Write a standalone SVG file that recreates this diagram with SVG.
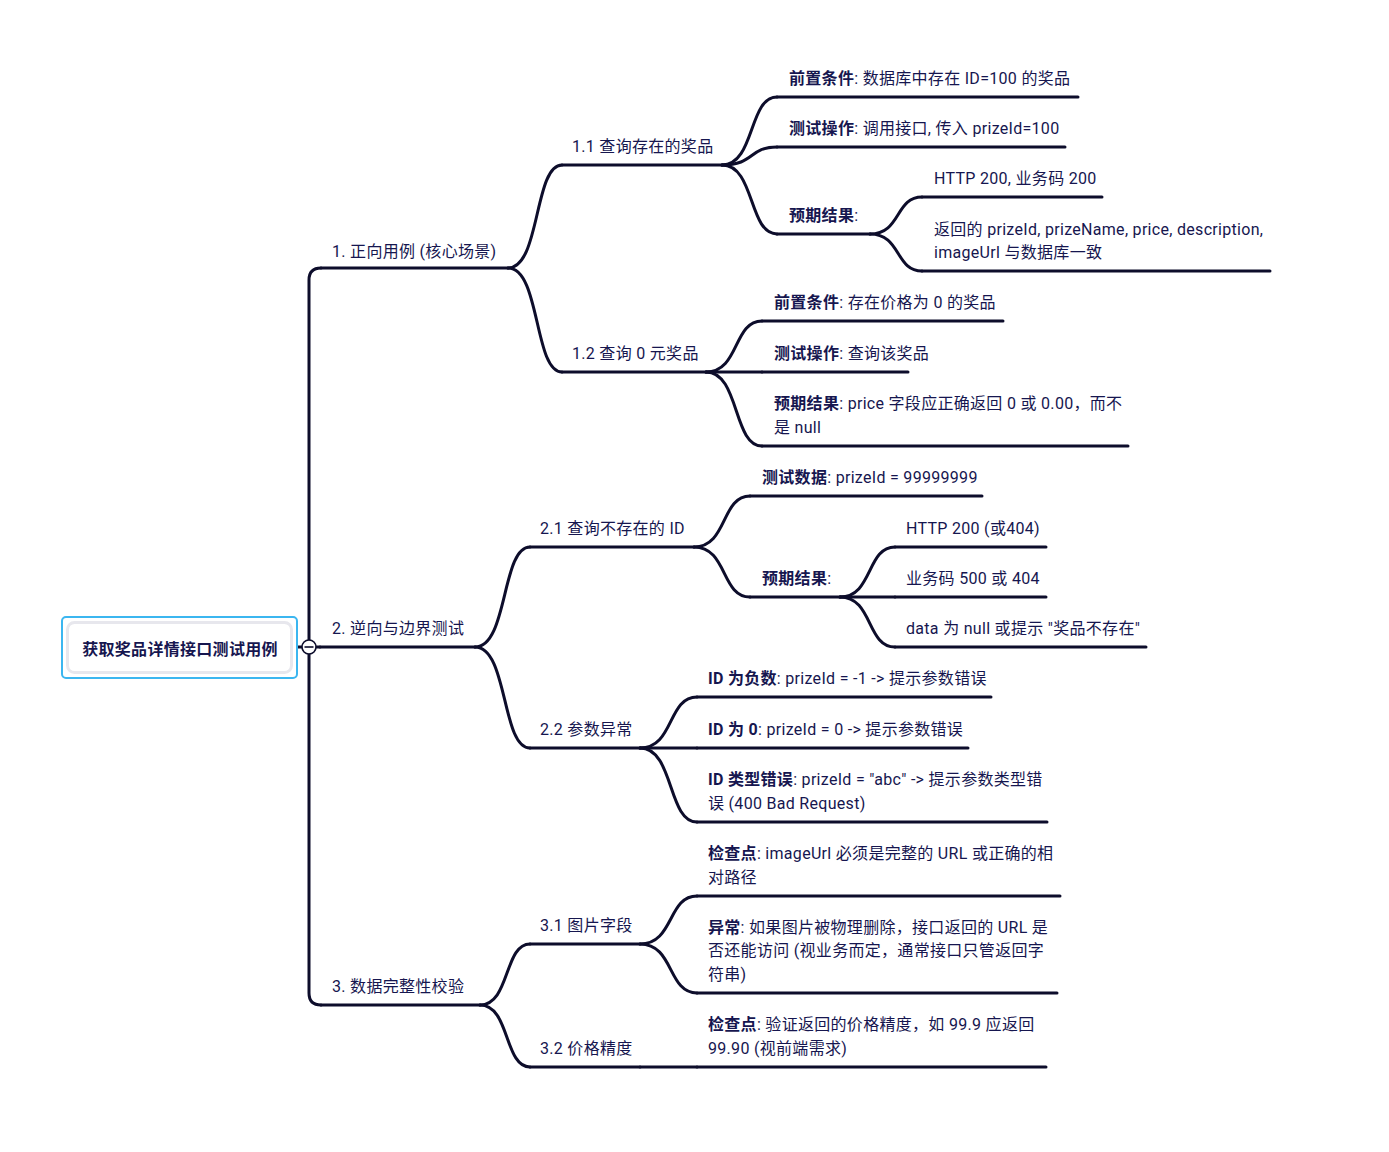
<svg xmlns="http://www.w3.org/2000/svg" width="1389" height="1152" viewBox="0 0 1389 1152">
<style>
text{font-family:Roboto,"Noto Sans CJK SC",sans-serif;font-size:16px;fill:#16164f;letter-spacing:0.3px}
.b{font-weight:bold}
.u{stroke:#0d0d2b;stroke-width:3;fill:none;stroke-linecap:round}
.c{stroke:#0d0d2b;stroke-width:3;fill:none;stroke-linecap:round}
</style>
<rect width="1389" height="1152" fill="#fff"/>
<g id="connectors">
<path class="c" d="M297 647H302"/>
<path class="c" d="M309 640V280Q309 268 321 268"/>
<path class="c" d="M309 654V993Q309 1005 321 1005"/>
<path class="c" d="M316 647H320"/>
<path class="c" d="M508 268C540.4 268 533.9 165 562 165"/>
<path class="c" d="M508 268C540.4 268 533.9 372 562 372"/>
<path class="c" d="M475 647C508 647 501.4 547 530 547"/>
<path class="c" d="M475 647C508 647 501.4 748 530 748"/>
<path class="c" d="M480 1005C510 1005 504 944 530 944"/>
<path class="c" d="M480 1005C510 1005 504 1067 530 1067"/>
<path class="c" d="M722 165C755 165 748.4 97 777 97"/>
<path class="c" d="M722 165C755 165 748.4 147 777 147"/>
<path class="c" d="M722 165C755 165 748.4 234 777 234"/>
<path class="c" d="M870 234C901.2 234 895 197 922 197"/>
<path class="c" d="M870 234C901.2 234 895 271 922 271"/>
<path class="c" d="M706 372C739.6 372 732.9 321 762 321"/>
<path class="c" d="M706 372H762"/>
<path class="c" d="M706 372C739.6 372 732.9 446 762 446"/>
<path class="c" d="M694 547C727.6 547 720.9 496 750 496"/>
<path class="c" d="M694 547C727.6 547 720.9 597 750 597"/>
<path class="c" d="M840 597C873 597 866.4 547 895 547"/>
<path class="c" d="M840 597H895"/>
<path class="c" d="M840 597C873 597 866.4 647 895 647"/>
<path class="c" d="M640 748C674.2 748 667.4 697 697 697"/>
<path class="c" d="M640 748H697"/>
<path class="c" d="M640 748C674.2 748 667.4 822 697 822"/>
<path class="c" d="M640 944C674.2 944 667.4 896 697 896"/>
<path class="c" d="M640 944C674.2 944 667.4 993 697 993"/>
<path class="c" d="M640 1067H697"/>
</g>
<g id="root">
<rect x="62" y="617" width="235" height="61" rx="4" fill="#fff" stroke="#3bb6f0" stroke-width="2"/>
<rect x="67.5" y="622.5" width="224" height="50" rx="7" fill="#fff" stroke="#e7e7ed" stroke-width="3"/>
<text class="b" x="180" y="655" text-anchor="middle">获取奖品详情接口测试用例</text>
<circle cx="309" cy="647" r="7" fill="#fff" stroke="#0d0d2b" stroke-width="1.6"/>
<path d="M304.5 647H313.5" stroke="#0d0d2b" stroke-width="1.6"/>
</g>
<g id="n1">
<path class="u" d="M321 268H508"/>
<text x="332" y="257">1. 正向用例 (核心场景)</text>
</g>
<g id="n1-1">
<path class="u" d="M562 165H722"/>
<text x="572" y="152">1.1 查询存在的奖品</text>
</g>
<g id="n1-1-1">
<path class="u" d="M777 97H1078"/>
<text x="789" y="84"><tspan class="b">前置条件</tspan>: 数据库中存在 ID=100 的奖品</text>
</g>
<g id="n1-1-2">
<path class="u" d="M777 147H1065"/>
<text x="789" y="134"><tspan class="b">测试操作</tspan>: 调用接口, 传入 prizeId=100</text>
</g>
<g id="n1-1-3">
<path class="u" d="M777 234H870"/>
<text x="789" y="221"><tspan class="b">预期结果</tspan>:</text>
</g>
<g id="n1-1-3-1">
<path class="u" d="M922 197H1102"/>
<text x="934" y="184">HTTP 200, 业务码 200</text>
</g>
<g id="n1-1-3-2">
<path class="u" d="M922 271H1270"/>
<text x="934" y="235">返回的 prizeId, prizeName, price, description,</text>
<text x="934" y="258">imageUrl 与数据库一致</text>
</g>
<g id="n1-2">
<path class="u" d="M562 372H706"/>
<text x="572" y="359">1.2 查询 0 元奖品</text>
</g>
<g id="n1-2-1">
<path class="u" d="M762 321H1003"/>
<text x="774" y="308"><tspan class="b">前置条件</tspan>: 存在价格为 0 的奖品</text>
</g>
<g id="n1-2-2">
<path class="u" d="M762 372H908"/>
<text x="774" y="359"><tspan class="b">测试操作</tspan>: 查询该奖品</text>
</g>
<g id="n1-2-3">
<path class="u" d="M762 446H1128"/>
<text x="774" y="409"><tspan class="b">预期结果</tspan>: price 字段应正确返回 0 或 0.00，而不</text>
<text x="774" y="433">是 null</text>
</g>
<g id="n2">
<path class="u" d="M320 647H475"/>
<text x="332" y="634">2. 逆向与边界测试</text>
</g>
<g id="n2-1">
<path class="u" d="M530 547H694"/>
<text x="540" y="534">2.1 查询不存在的 ID</text>
</g>
<g id="n2-1-1">
<path class="u" d="M750 496H982"/>
<text x="762" y="483"><tspan class="b">测试数据</tspan>: prizeId = 99999999</text>
</g>
<g id="n2-1-2">
<path class="u" d="M750 597H840"/>
<text x="762" y="584"><tspan class="b">预期结果</tspan>:</text>
</g>
<g id="n2-1-2-1">
<path class="u" d="M895 547H1046"/>
<text x="906" y="534">HTTP 200 (或404)</text>
</g>
<g id="n2-1-2-2">
<path class="u" d="M895 597H1046"/>
<text x="906" y="584">业务码 500 或 404</text>
</g>
<g id="n2-1-2-3">
<path class="u" d="M895 647H1146"/>
<text x="906" y="634">data 为 null 或提示 "奖品不存在"</text>
</g>
<g id="n2-2">
<path class="u" d="M530 748H640"/>
<text x="540" y="735">2.2 参数异常</text>
</g>
<g id="n2-2-1">
<path class="u" d="M697 697H991"/>
<text x="708" y="684"><tspan class="b">ID 为负数</tspan>: prizeId = -1 -&gt; 提示参数错误</text>
</g>
<g id="n2-2-2">
<path class="u" d="M697 748H968"/>
<text x="708" y="735"><tspan class="b">ID 为 0</tspan>: prizeId = 0 -&gt; 提示参数错误</text>
</g>
<g id="n2-2-3">
<path class="u" d="M697 822H1047"/>
<text x="708" y="785"><tspan class="b">ID 类型错误</tspan>: prizeId = "abc" -&gt; 提示参数类型错</text>
<text x="708" y="809">误 (400 Bad Request)</text>
</g>
<g id="n3">
<path class="u" d="M321 1005H480"/>
<text x="332" y="992">3. 数据完整性校验</text>
</g>
<g id="n3-1">
<path class="u" d="M530 944H640"/>
<text x="540" y="931">3.1 图片字段</text>
</g>
<g id="n3-1-1">
<path class="u" d="M697 896H1060"/>
<text x="708" y="859"><tspan class="b">检查点</tspan>: imageUrl 必须是完整的 URL 或正确的相</text>
<text x="708" y="883">对路径</text>
</g>
<g id="n3-1-2">
<path class="u" d="M697 993H1057"/>
<text x="708" y="933"><tspan class="b">异常</tspan>: 如果图片被物理删除，接口返回的 URL 是</text>
<text x="708" y="956">否还能访问 (视业务而定，通常接口只管返回字</text>
<text x="708" y="980">符串)</text>
</g>
<g id="n3-2">
<path class="u" d="M530 1067H640"/>
<text x="540" y="1054">3.2 价格精度</text>
</g>
<g id="n3-2-1">
<path class="u" d="M697 1067H1046"/>
<text x="708" y="1030"><tspan class="b">检查点</tspan>: 验证返回的价格精度，如 99.9 应返回</text>
<text x="708" y="1054">99.90 (视前端需求)</text>
</g>
</svg>
